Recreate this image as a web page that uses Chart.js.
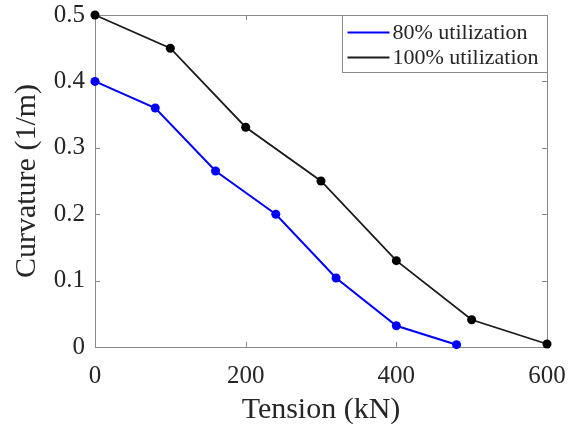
<!DOCTYPE html>
<html>
<head>
<meta charset="utf-8">
<script src="https://cdn.jsdelivr.net/npm/chart.js@4.4.1/dist/chart.umd.min.js"></script>
<style>
  html, body { margin: 0; padding: 0; background: #fff; }
  #wrap { width: 569px; height: 428px; }
</style>
</head>
<body>
<div id="wrap"><canvas id="myChart"></canvas></div>
<script>
'use strict';

// tension (kN) vs curvature (1/m)
const tension80 = [0, 80, 160, 240, 320, 400, 480];
const curv80 = [0.40, 0.36, 0.265, 0.20, 0.104, 0.032, 0.0035];
const tension100 = [0, 100, 200, 300, 400, 500, 600];
const curv100 = [0.50, 0.45, 0.331, 0.25, 0.13, 0.041, 0.0045];
const xTicks = [0, 200, 400, 600];
const yTicks = [0, 0.1, 0.2, 0.3, 0.4, 0.5];
const seriesNames = ['80% utilization', '100% utilization'];

const serif = "'Liberation Serif', 'Times New Roman', serif";
const axisGray = '#8a8a8a';
const textColor = '#262626';

function toPoints(xs, ys) {
  return xs.map((x, i) => ({x: x, y: ys[i]}));
}

// box round the plot + inward ticks, MATLAB style
const boxPlugin = {
  id: 'box',
  beforeDatasetsDraw(chart) {
    const ctx = chart.ctx;
    const a = chart.chartArea;
    const xs = chart.scales.x, ys = chart.scales.y;
    const tl = 5;
    ctx.save();
    ctx.strokeStyle = axisGray;
    ctx.lineWidth = 1;
    ctx.strokeRect(Math.round(a.left) + 0.5, Math.round(a.top) + 0.5,
      Math.round(a.right - a.left), Math.round(a.bottom - a.top));
    ctx.beginPath();
    xTicks.forEach(v => {
      const px = Math.round(xs.getPixelForValue(v)) + 0.5;
      ctx.moveTo(px, a.bottom); ctx.lineTo(px, a.bottom - tl);
      ctx.moveTo(px, a.top); ctx.lineTo(px, a.top + tl);
    });
    yTicks.forEach(v => {
      const py = Math.round(ys.getPixelForValue(v)) + 0.5;
      ctx.moveTo(a.left, py); ctx.lineTo(a.left + tl, py);
      ctx.moveTo(a.right, py); ctx.lineTo(a.right - tl, py);
    });
    ctx.stroke();
    ctx.restore();
  },
  afterDraw(chart) {
    // legend box in the top right corner
    const ctx = chart.ctx;
    const a = chart.chartArea;
    const w = 205, h = 57;
    const x0 = Math.round(a.right - w) + 0.5, y0 = Math.round(a.top) + 0.5;
    ctx.save();
    ctx.fillStyle = '#fff';
    ctx.fillRect(x0, y0, w, h);
    ctx.strokeStyle = axisGray;
    ctx.lineWidth = 1;
    ctx.strokeRect(x0, y0, w, h);
    ctx.font = '22px ' + serif;
    ctx.textBaseline = 'middle';
    chart.data.datasets.forEach((ds, i) => {
      const yy = y0 + 17 + i * 25;
      ctx.strokeStyle = ds.borderColor;
      ctx.lineWidth = ds.borderWidth;
      ctx.beginPath();
      ctx.moveTo(x0 + 5, yy); ctx.lineTo(x0 + 47, yy);
      ctx.stroke();
      ctx.fillStyle = textColor;
      ctx.fillText(ds.label, x0 + 50, yy + 1);
    });
    ctx.restore();
  }
};

let ctxMap = document.getElementById('myChart');
let chart = new Chart(ctxMap, {
  type: 'line',
  data: {
    datasets: [{
      label: seriesNames[0],
      data: toPoints(tension80, curv80),
      borderColor: '#0000ff',
      backgroundColor: '#0000ff',
      borderWidth: 2,
      pointRadius: 4.5,
      pointBorderWidth: 0,
      tension: 0
    }, {
      label: seriesNames[1],
      data: toPoints(tension100, curv100),
      borderColor: '#1a1a1a',
      backgroundColor: '#000000',
      borderWidth: 1.8,
      pointRadius: 4.5,
      pointBorderWidth: 0,
      tension: 0
    }]
  },
  options: {
    responsive: true,
    maintainAspectRatio: false,
    animation: false,
    clip: false,
    layout: { padding: { left: 0, right: 22, top: 15, bottom: 0 } },
    plugins: { legend: { display: false }, tooltip: { enabled: false } },
    scales: {
      x: {
        type: 'linear',
        min: 0, max: 600,
        afterBuildTicks: scale => { scale.ticks = xTicks.map(v => ({value: v})); },
        afterFit: scale => { scale.height = 81; scale.paddingLeft = 0; scale.paddingRight = 0; },
        grid: { display: false },
        border: { display: false },
        ticks: { color: textColor, font: { family: serif, size: 25 }, padding: 6, maxRotation: 0 },
        title: { display: true, text: 'Tension (kN)', color: textColor,
          font: { family: serif, size: 30 }, padding: { top: 5, bottom: 0 } }
      },
      y: {
        type: 'linear',
        min: 0, max: 0.5,
        afterBuildTicks: scale => { scale.ticks = yTicks.map(v => ({value: v})); },
        afterFit: scale => { scale.width = 95; scale.paddingTop = 0; scale.paddingBottom = 0; },
        grid: { display: false },
        border: { display: false },
        ticks: { color: textColor, font: { family: serif, size: 25 }, padding: 2,
          callback: v => (v === 0 ? '0' : v.toFixed(1)) },
        title: { display: true, text: 'Curvature (1/m)', color: textColor,
          font: { family: serif, size: 30 }, padding: { top: 9, bottom: 0 } }
      }
    }
  },
  plugins: [boxPlugin]
});
</script>
</body>
</html>
